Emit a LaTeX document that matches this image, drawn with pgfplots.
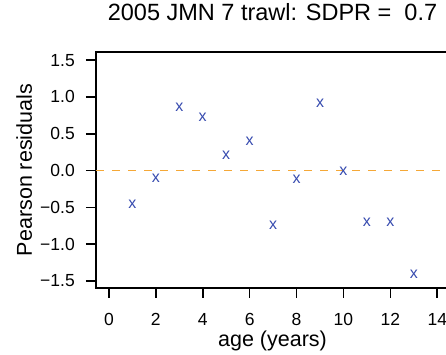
\documentclass[border=0pt]{standalone}
\usepackage{fontspec}
\setmainfont{Liberation Sans}
\usepackage{pgfplots}
\pgfplotsset{compat=1.18}
\definecolor{ptblue}{RGB}{55,75,175}
\definecolor{lineorange}{RGB}{245,168,55}
\begin{document}
\begin{tikzpicture}
\begin{axis}[
  name=ax,
  scale only axis, width=353pt, height=236pt,
  xmin=-0.55, xmax=14.5, ymin=-1.595, ymax=1.61,
  axis line style={line width=1.6pt},
  every tick/.style={line width=1.6pt, black},
  tick align=outside, major tick length=10pt,
  xtick pos=lower, ytick pos=left,
  xtick={0,2,4,6,8,10,12,14},
  xticklabels={0,2,4,6,8,10,12,14},
  ytick={-1.5,-1,-0.5,0,0.5,1,1.5},
  yticklabels={−1.5,−1.0,−0.5,0.0,0.5,1.0,1.5},
  ticklabel style={font=\fontsize{17.5}{17.5}\selectfont},
  yticklabel style={inner sep=0pt, xshift=-11pt, anchor=east},
  xticklabel style={inner sep=0pt, yshift=-15pt, anchor=north},
  xlabel={age (years)},
  ylabel={Pearson residuals},
  label style={font=\fontsize{21.5}{21.5}\selectfont, inner sep=0pt},
  xlabel style={at={(rel axis cs:0.5,0)}, anchor=base, yshift=-58pt},
  ylabel style={at={(rel axis cs:0,0.5)}, anchor=base, yshift=64pt},
  title={2005 JMN 7 trawl: SDPR =\ \ 0.7},
  title style={font=\fontsize{23.5}{23.5}\selectfont, inner sep=0pt, at={(rel axis cs:0.5,1)}, anchor=base, yshift=25pt},
  clip=false,
]
\addplot[lineorange, line width=1.5pt, dash pattern=on 8pt off 8pt] coordinates {(-0.55,0) (14.5,0)};
\addplot[ptblue, only marks, mark=text, text mark={\color{ptblue}\fontsize{16}{16}\selectfont x}]
  coordinates {
  (1,-0.464) (2,-0.104) (3,0.856) (4,0.72) (5,0.21) (6,0.40) (7,-0.74)
  (8,-0.117) (9,0.91) (10,-0.01) (11,-0.707) (12,-0.707) (13,-1.41)
  };
\end{axis}
\pgfresetboundingbox
\path[use as bounding box] ([shift={(-96pt,-67pt)}]ax.south west) rectangle ([shift={(350pt,288pt)}]ax.south west);
\end{tikzpicture}
\end{document}
